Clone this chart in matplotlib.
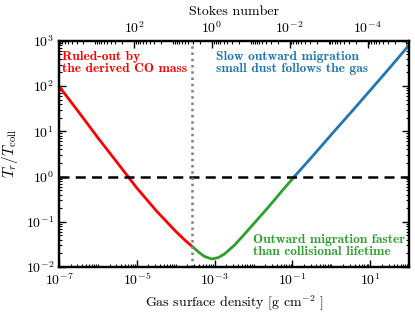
import matplotlib
matplotlib.use("Agg")
import matplotlib.pyplot as plt
import numpy as np
from matplotlib.ticker import LogLocator, NullFormatter

plt.rcParams["font.family"] = "cmr10"
plt.rcParams["mathtext.fontset"] = "cm"
plt.rcParams["axes.formatter.use_mathtext"] = True
plt.rcParams["axes.unicode_minus"] = False

# Gas surface density [g cm^-2] and T_r/T_coll
sigma = [1e-7, 3.2e-7, 1e-6, 3.2e-6, 1e-5, 3.2e-5, 1e-4, 1.8e-4, 2.7e-4,
         4e-4, 5.6e-4, 8.5e-4, 1.26e-3, 1.8e-3, 3.2e-3, 5.6e-3, 1e-2,
         1.8e-2, 3.2e-2, 5.6e-2, 0.112, 0.32, 1.0, 3.2, 10.0, 32.0, 100.0]
ratio = [100, 26.9, 7.24, 2.0, 0.562, 0.174, 0.0617, 0.038, 0.0282,
         0.0209, 0.0170, 0.0151, 0.0163, 0.0195, 0.0302, 0.051, 0.090,
         0.159, 0.282, 0.501, 1.0, 2.75, 8.5, 26.3, 81, 257, 813]

sigma_co_limit = 2.7e-4   # dotted line: ruled out below this
sigma_equal = 0.112       # T_r = T_coll
st_scale = 8.5e-4         # Stokes number = st_scale / sigma

sigma = np.array(sigma)
ratio = np.array(ratio)

red = "#ff0000"
green = "#2ca02c"
blue = "#1f77b4"

fig = plt.figure(figsize=(4.15, 3.12), dpi=100)
ax = fig.add_axes([0.142, 0.144, 0.844, 0.725])

m_red = sigma <= sigma_co_limit
m_green = (sigma >= sigma_co_limit) & (sigma <= sigma_equal)
m_blue = sigma >= sigma_equal
ax.plot(sigma[m_red], ratio[m_red], color=red, lw=2)
ax.plot(sigma[m_green], ratio[m_green], color=green, lw=2)
ax.plot(sigma[m_blue], ratio[m_blue], color=blue, lw=2)

ax.axhline(1.0, color="black", lw=1.8, ls=(0, (4, 2.5)))
ax.axvline(sigma_co_limit, color="gray", lw=1.8, ls=(0, (1, 1.5)))

ax.set_xscale("log")
ax.set_yscale("log")
ax.set_xlim(1e-7, 1e2)
ax.set_ylim(1e-2, 1e3)

ax.xaxis.set_major_locator(plt.FixedLocator([1e-7, 1e-5, 1e-3, 1e-1, 1e1]))
ax.xaxis.set_minor_locator(LogLocator(base=10, subs=np.arange(1, 10), numticks=30))
ax.xaxis.set_minor_formatter(NullFormatter())
ax.yaxis.set_major_locator(LogLocator(base=10, numticks=10))
ax.yaxis.set_minor_locator(LogLocator(base=10, subs=np.arange(2, 10), numticks=30))
ax.yaxis.set_minor_formatter(NullFormatter())

ax.tick_params(which="both", direction="in", right=True, top=False, labelsize=10)
ax.tick_params(which="major", length=5, width=1)
ax.tick_params(which="minor", length=2.5, width=0.8)
for sp in ax.spines.values():
    sp.set_linewidth(1.6)

ax.set_xlabel(r"Gas surface density [g cm$^{-2}$ ]", fontsize=10)
ax.set_ylabel(r"$T_r/T_{\rm coll}$", fontsize=11)

# top axis: Stokes number, decreasing to the right
top = ax.twiny()
top.set_xscale("log")
top.set_xlim(st_scale / 1e-7, st_scale / 1e2)
top.xaxis.set_major_locator(plt.FixedLocator([1e2, 1e0, 1e-2, 1e-4]))
top.xaxis.set_minor_locator(LogLocator(base=10, subs=np.arange(1, 10), numticks=30))
top.xaxis.set_minor_formatter(NullFormatter())
top.tick_params(which="both", direction="in", labelsize=10)
top.tick_params(which="major", length=5, width=1)
top.tick_params(which="minor", length=2.5, width=0.8)
top.set_xlabel("Stokes number", fontsize=10)
for sp in top.spines.values():
    sp.set_linewidth(1.6)

ax.text(0.008, 0.955, "Ruled-out by\nthe derived CO mass", transform=ax.transAxes,
        color=red, family="cmb10", fontsize=9.7, va="top", ha="left", linespacing=1.0)
ax.text(0.449, 0.955, "Slow outward migration\nsmall dust follows the gas", transform=ax.transAxes,
        color=blue, family="cmb10", fontsize=9.7, va="top", ha="left", linespacing=1.0)
ax.text(0.553, 0.145, "Outward migration faster\nthan collisional lifetime", transform=ax.transAxes,
        color=green, family="cmb10", fontsize=9.7, va="top", ha="left", linespacing=1.0)

fig.savefig("out.png", dpi=100)
